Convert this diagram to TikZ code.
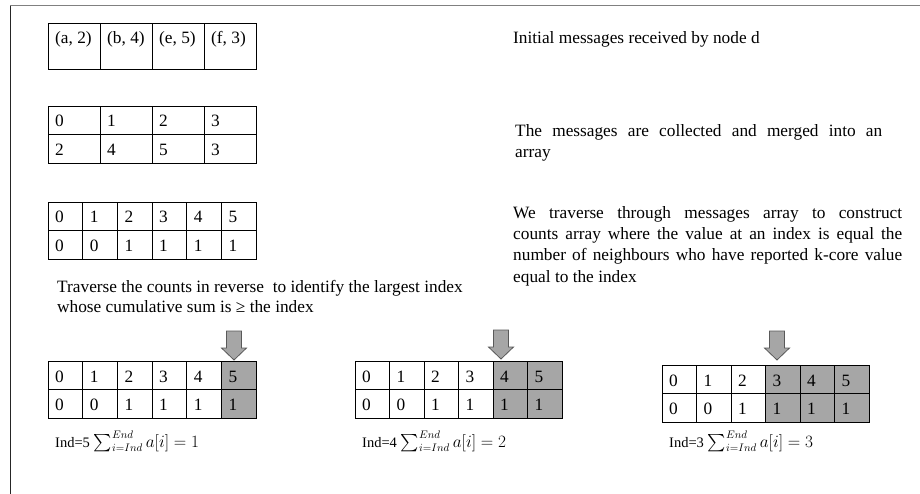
\documentclass[tikz,border=0pt]{standalone}
\usepackage{exscale}
\usepackage{fontspec}
\setmainfont{Liberation Serif}
\definecolor{shadegray}{RGB}{166,166,166}
\newcommand{\cnttab}[5]{% #1 prefix, #2 x0, #3 y0, #4 first shaded col, #5 col width
  \foreach \a/\b [count=\i] in {0/0,1/0,2/1,3/1,4/1,5/1} {
    \ifnum\i<#4 \def\cf{white}\else\def\cf{shadegray}\fi
    \node[cell, fill=\cf, minimum width=#5 pt, minimum height=28.5pt] (#1a\i) at ({#2+#5*(\i-1)},#3) {};
    \node[cell, fill=\cf, minimum width=#5 pt, minimum height=28.5pt] (#1b\i) at ({#2+#5*(\i-1)},{#3+28.5}) {};
    \node[ctxt] (#1ta\i) at ([xshift=7pt,yshift=-21pt]#1a\i.north west) {\a};
    \node[ctxt] (#1tb\i) at ([xshift=7pt,yshift=-21pt]#1b\i.north west) {\b};
  }}
\newcommand{\blkdown}[2]{% #1 centre x, #2 top y
  \draw[blkarrow] ({#1-7.5},#2) -- ({#1+7.5},#2) -- ({#1+7.5},{#2+17}) -- ({#1+12.5},{#2+17})
    -- (#1,{#2+29}) -- ({#1-12.5},{#2+17}) -- ({#1-7.5},{#2+17}) -- cycle;}
\newcommand{\sumformula}[2]{{\fontsize{14.5}{17}\selectfont Ind=#1}\hspace{4pt}{\fontsize{16}{19}\selectfont$\sum_{i=Ind}^{End} a[i] = #2$}}
\begin{document}
\begin{tikzpicture}[x=1pt,y=-1pt,
  cell/.style={draw=black, line width=0.85pt, anchor=north west, inner sep=0pt, outer sep=0pt},
  ctxt/.style={anchor=base west, inner sep=0pt, font=\fontsize{17.3}{21}\selectfont},
  body/.style={anchor=base west, inner sep=0pt, font=\fontsize{17.3}{21}\selectfont},
  formula/.style={anchor=base west, inner sep=0pt},
  blkarrow/.style={fill=shadegray, draw=black!65, line width=0.8pt, line join=miter}]
\useasboundingbox (0,0) rectangle (920,494);
% frame
\draw[black!50, line width=1pt] (10,6) -- (920,6);
\draw[black!85, line width=1pt] (10.5,6) -- (10.5,494);
% table 1: messages
\foreach \t [count=\i] in {{(a, 2)},{(b, 4)},{(e, 5)},{(f, 3)}} {
  \node[cell, minimum width=52pt, minimum height=46pt] (m\i) at ({48+52*(\i-1)},23) {};
  \node[ctxt] (mt\i) at ([xshift=7pt,yshift=-21pt]m\i.north west) {\t};
}
% table 2: merged array
\foreach \a/\b [count=\i] in {0/2,1/4,2/5,3/3} {
  \node[cell, minimum width=52pt, minimum height=28.5pt] (ga\i) at ({48+52*(\i-1)},106) {};
  \node[cell, minimum width=52pt, minimum height=28.5pt] (gb\i) at ({48+52*(\i-1)},134.5) {};
  \node[ctxt] (gta\i) at ([xshift=7pt,yshift=-21pt]ga\i.north west) {\a};
  \node[ctxt] (gtb\i) at ([xshift=7pt,yshift=-21pt]gb\i.north west) {\b};
}
% counts tables
\cnttab{C}{48}{202}{7}{34.67}
\cnttab{D}{48}{361}{6}{34.67}
\cnttab{E}{355}{361}{5}{34.5}
\cnttab{F}{662}{365}{4}{34.5}
% arrows
\blkdown{234}{331}
\blkdown{501}{330}
\blkdown{777}{331}
% right-hand texts
\node[body] (init) at (513,44) {Initial messages received by node d};
\node[body] (mg1) at (515,137) {\makebox[367pt][s]{The messages are collected and merged into an}};
\node[body] (mg2) at (515,158) {array};
\node[body] (w1) at (513,219) {\makebox[389pt][s]{We traverse through messages array to construct}};
\node[body] (w2) at (513,240) {\makebox[389pt][s]{counts array where the value at an index is equal the}};
\node[body] (w3) at (513,261) {\makebox[389pt][s]{number of neighbours who have reported k-core value}};
\node[body] (w4) at (513,282) {equal to the index};
% traverse text
\node[body] (tr1) at (57,292) {Traverse the counts in reverse\ \ to identify the largest index};
\node[body] (tr2) at (57,312) {whose cumulative sum is ≥ the index};
% formulas
\node[formula] (f1) at (55,447) {\sumformula{5}{1}};
\node[formula] (f2) at (362,447) {\sumformula{4}{2}};
\node[formula] (f3) at (669,447) {\sumformula{3}{3}};
\end{tikzpicture}
\end{document}
